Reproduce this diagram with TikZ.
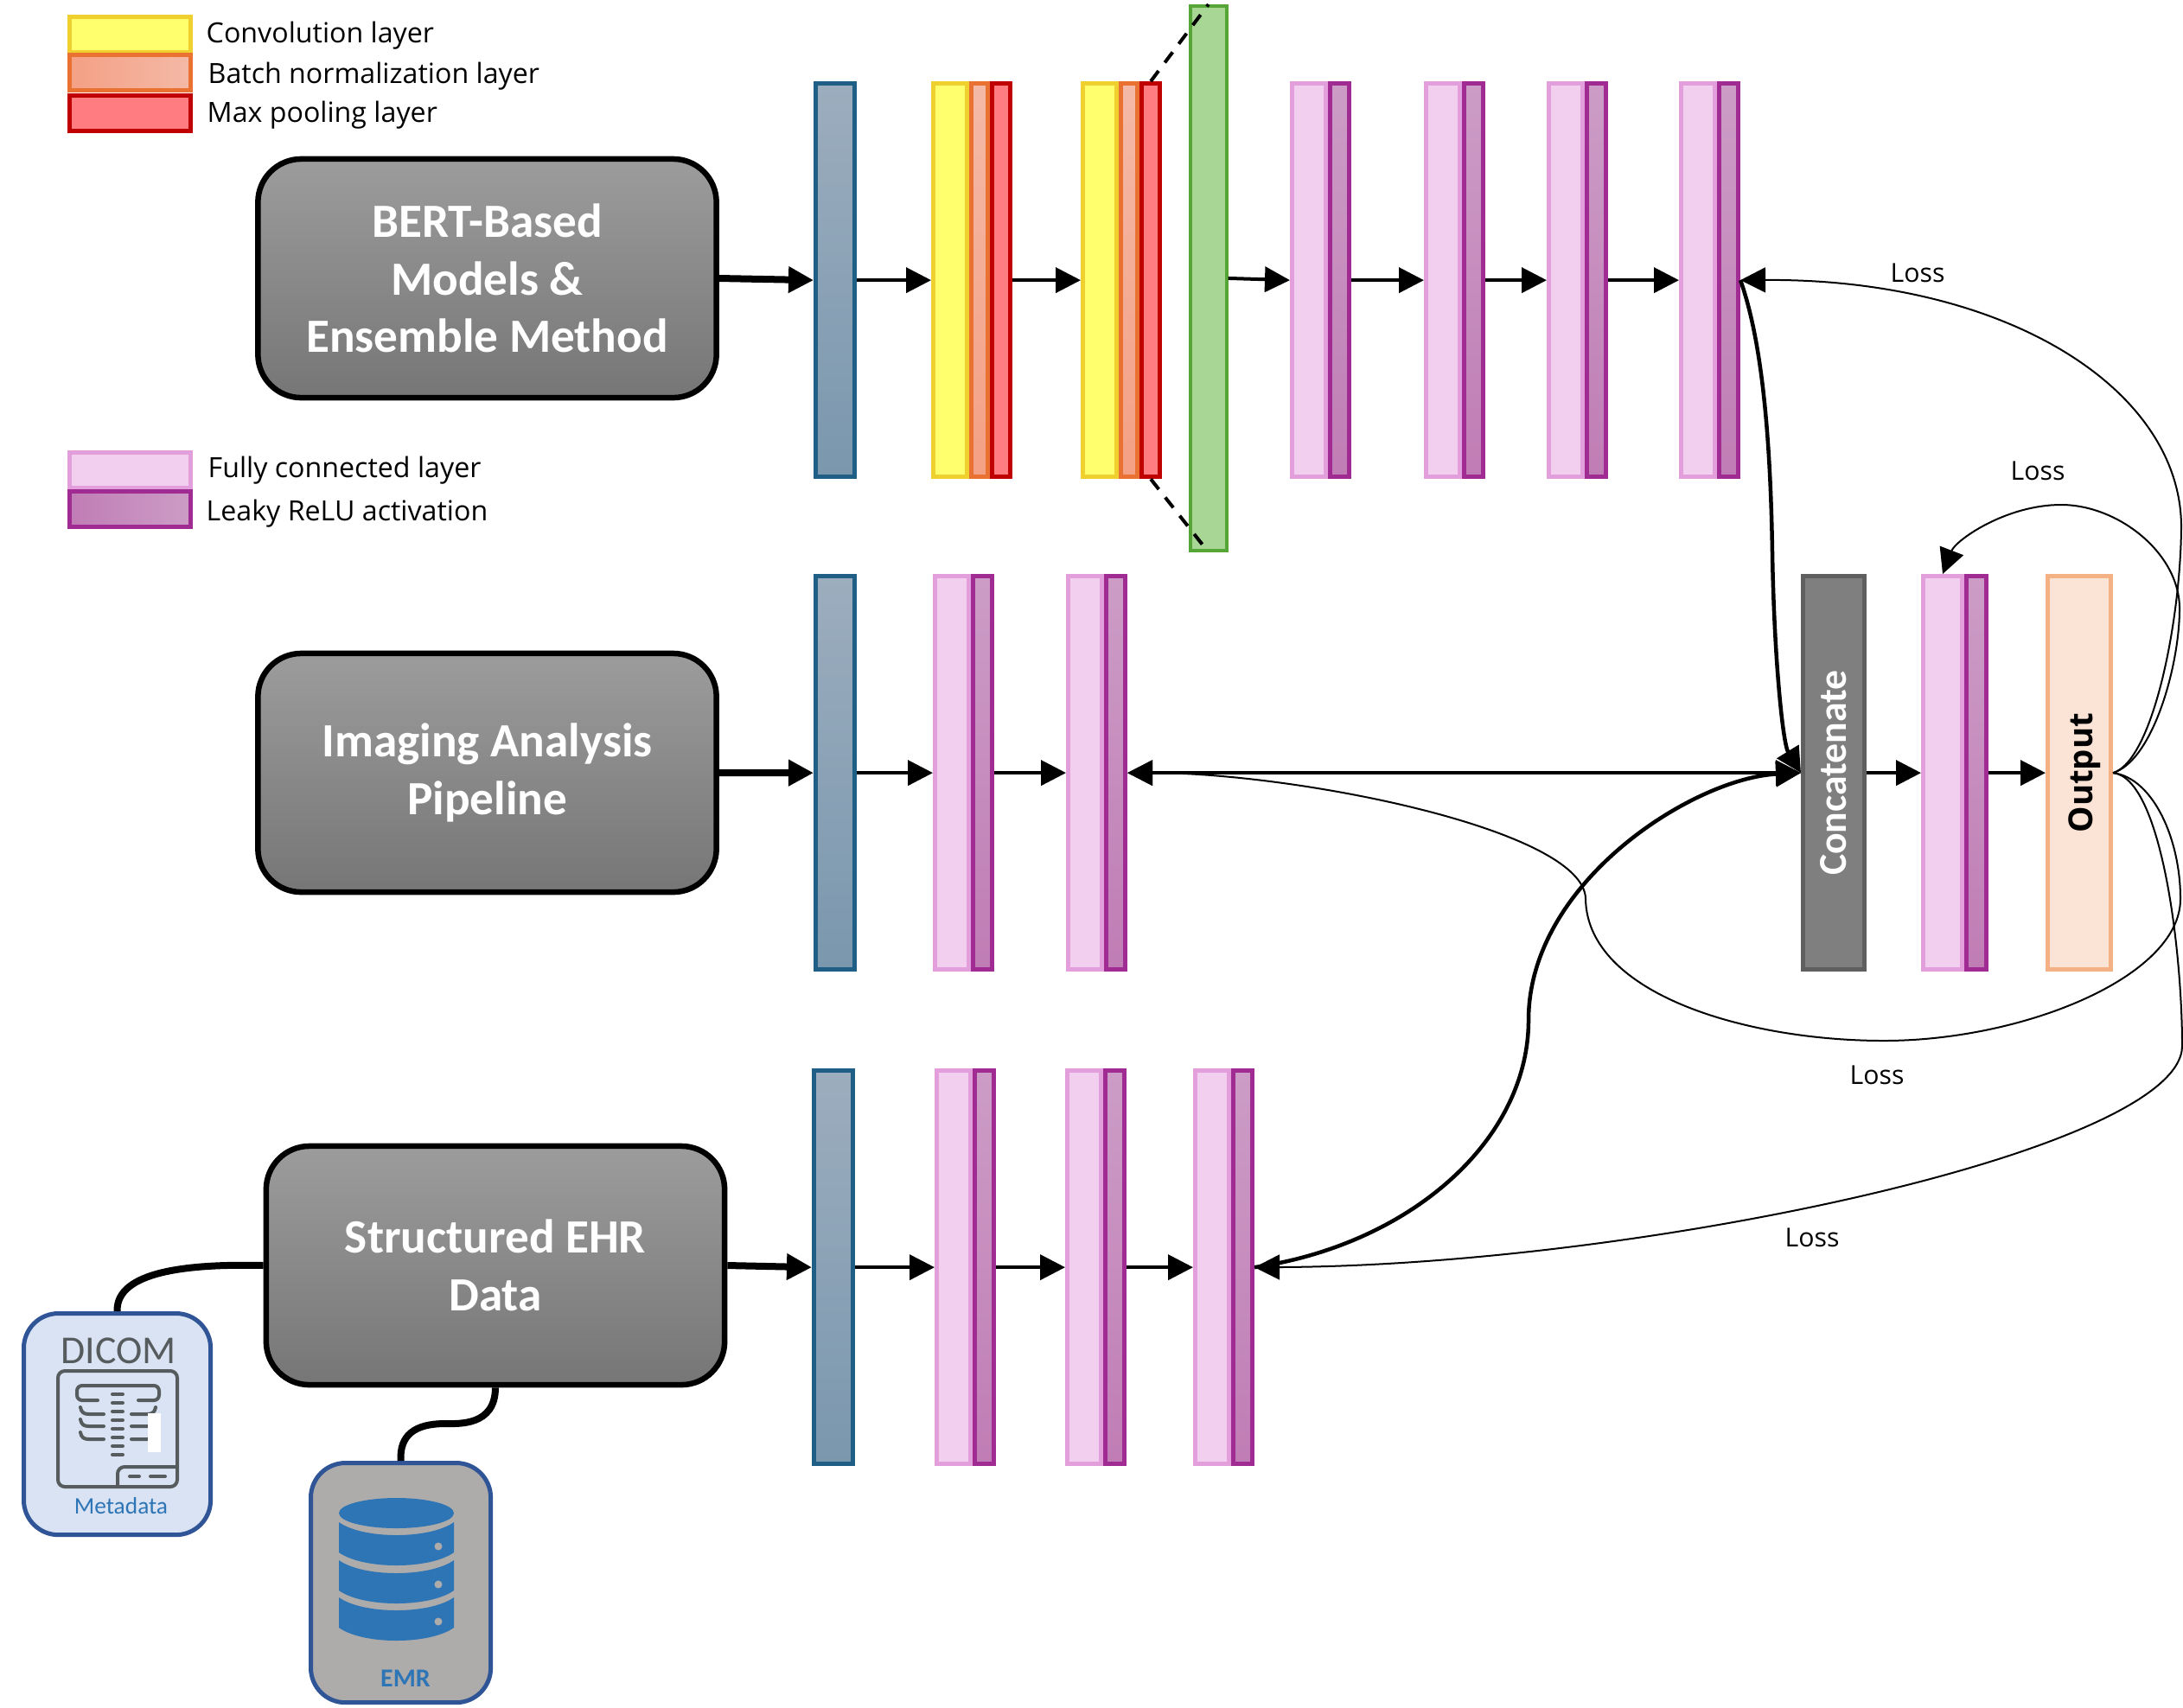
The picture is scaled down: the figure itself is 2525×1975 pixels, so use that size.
\documentclass[tikz,border=0pt]{standalone}
\usepackage{fontspec}
\usepackage{graphicx}
\usetikzlibrary{arrows.meta}
\setmainfont{Carlito}
\newfontfamily\segoe{Open Sans}
\definecolor{INK}{HTML}{000000}
\definecolor{FCL}{HTML}{F2CEEF}
\definecolor{FCD}{HTML}{E29FDC}
\definecolor{LKD}{HTML}{A02B93}
\definecolor{DBB}{HTML}{2E75B6}
\definecolor{EDGEB}{HTML}{2F5597}
\definecolor{ICON}{HTML}{565C5E}
\definecolor{IND}{HTML}{1F5F85}
\definecolor{INT}{HTML}{9CADBE}
\definecolor{INB}{HTML}{7A97AE}
\definecolor{CONVD}{HTML}{EFD02E}
\definecolor{CONVF}{HTML}{FFFF6E}
\definecolor{BND}{HTML}{E97132}
\definecolor{BNT}{HTML}{F4B9A7}
\definecolor{BNB}{HTML}{F4A084}
\definecolor{POOLD}{HTML}{C00000}
\definecolor{POOLF}{HTML}{FF7C80}
\definecolor{LKT}{HTML}{CC9CC6}
\definecolor{LKB}{HTML}{C07DB5}
\definecolor{FLATD}{HTML}{55A636}
\definecolor{FLATF}{HTML}{A8D695}
\definecolor{OUTD}{HTML}{F4B183}
\definecolor{OUTF}{HTML}{FBE3D6}
\definecolor{CATD}{HTML}{5F5F5F}
\definecolor{CATF}{HTML}{7F7F7F}
\definecolor{MAINT}{HTML}{9C9C9C}
\definecolor{MAINB}{HTML}{767676}
\definecolor{CARDF}{HTML}{DAE3F3}
\definecolor{EMRF}{HTML}{AEABAB}

\begin{document}
\begin{tikzpicture}[
    x=0.01cm, y=-0.01cm,
    font=\segoe,
    lossTip/.tip={Triangle[length=0.29cm, width=0.29cm]},
    lyr/.style={rectangle, inner sep=0pt, anchor=north west, minimum height=4.55cm, line width=0.05cm},
    inputL/.style={lyr, minimum width=0.45cm, draw=IND, top color=INT, bottom color=INB},
    convL/.style={lyr, minimum width=0.39cm, draw=CONVD, fill=CONVF},
    bnL/.style={lyr, anchor=west, minimum width=0.19cm, draw=BND, top color=BNT, bottom color=BNB},
    poolL/.style={lyr, anchor=west, minimum width=0.21cm, draw=POOLD, fill=POOLF},
    fcL/.style={lyr, minimum width=0.39cm, draw=FCD, fill=FCL},
    leakyL/.style={lyr, anchor=west, minimum width=0.22cm, draw=LKD, top color=LKT, bottom color=LKB},
    main/.style={rectangle, rounded corners=0.5cm, draw=INK, line width=0.065cm, minimum width=5.30cm, minimum height=2.76cm, top color=MAINT, bottom color=MAINB, text=white, align=center, font=\rmfamily\fontsize{15.7}{19}\selectfont\bfseries},
    keyB/.style={rectangle, inner sep=0pt, anchor=north west, line width=0.05cm, minimum width=1.40cm, minimum height=0.41cm},
    keyT/.style={anchor=west, inner sep=0pt, font=\segoe\fontsize{9.15}{11}\selectfont},
    lossT/.style={inner sep=0pt, font=\segoe\fontsize{8.6}{10}\selectfont},
    card/.style={rectangle, rounded corners=0.4cm, draw=EDGEB, line width=0.05cm, anchor=north west},
    arr/.style={-lossTip, line width=0.04cm},
    arrT/.style={-lossTip, line width=0.08cm},
    curveT/.style={-lossTip, line width=0.045cm},
    loss/.style={-lossTip, line width=0.02cm},
    wire/.style={line width=0.08cm},
    iconL/.style={draw=ICON, line width=0.04cm, line cap=round},
    dashL/.style={line width=0.04cm, dash pattern=on 0.15cm off 0.12cm},
  ]

  \useasboundingbox (0,0) rectangle (2525,1975);

  % --- legend ---
  \node[keyB, draw=CONVD, fill=CONVF] (keyConv) at (78,17) {};
  \node[keyB, draw=BND, left color=BNB, right color=BNT] (keyBn) at (78,61) {};
  \node[keyB, draw=POOLD, fill=POOLF] (keyPool) at (78,108) {};
  \node[keyB, draw=FCD, fill=FCL] (keyFc) at (78,521) {};
  \node[keyB, draw=LKD, left color=LKB, right color=LKT] (keyLeaky) at (78,566) {};
  \node[keyT] (txtConv) at (238,41) {Convolution layer};
  \node[keyT] (txtBn) at (240,88) {Batch normalization layer};
  \node[keyT] (txtPool) at (239,133) {Max pooling layer};
  \node[keyT] (txtFc) at (240,544) {Fully connected layer};
  \node[keyT] (txtLeaky) at (238,594) {Leaky ReLU activation};

  % --- source boxes ---
  \node[main] (bert) at (563.5,322) {BERT-Based\\Models \&\\Ensemble Method};
  \node[main] (imaging) at (563.5,894) {Imaging Analysis\\Pipeline};
  \node[main] (ehr) at (573,1464) {Structured EHR\\Data};

  % --- row 1 ---
  \node[inputL] (r1in) at (941,94) {};
  \foreach \nm/\x in {b1/1077, b2/1250} {
    \node[convL] (\nm conv) at (\x,94) {};
    \node[bnL] (\nm bn) at (\nm conv.east) {};
    \node[poolL] (\nm pool) at (\nm bn.east) {};
  }
  \node[rectangle, inner sep=0pt, anchor=north west, draw=FLATD, fill=FLATF, line width=0.035cm, minimum width=0.42cm, minimum height=6.3cm] (flat) at (1375,5) {};
  \foreach \nm/\x/\yy in {r1a/1492/94, r1b/1647/94, r1c/1789/94, r1d/1942/94,
                          r2a/1079/664, r2b/1233/664,
                          r3a/1081/1236, r3b/1232/1236, r3c/1380/1236} {
    \node[fcL] (\nm) at (\x,\yy) {};
    \node[leakyL] (\nm x) at (\nm.east) {};
  }
  \node[fcL, minimum width=0.45cm] (cfc) at (2222,664) {};
  \node[leakyL, minimum width=0.23cm] (cfcx) at (cfc.east) {};
  \draw[dashL] (b2pool.north) -- (flat.north);
  \draw[dashL] (b2pool.south) -- (flat.south);

  % --- rows 2 and 3, inputs ---
  \node[inputL] (r2in) at (941,664) {};
  \node[inputL] (r3in) at (939,1236) {};

  % --- merge ---
  \node[lyr, minimum width=0.71cm, draw=CATD, fill=CATF, text=white] (concat) at (2083,664)
    {\rotatebox{90}{\rmfamily\fontsize{13}{16}\selectfont\bfseries Concatenate}};
  \node[lyr, minimum width=0.73cm, draw=OUTD, fill=OUTF] (output) at (2366,664)
    {\rotatebox{90}{\smash{\raisebox{-4.5pt}{\segoe\fontsize{10.9}{13}\selectfont\bfseries Output}}}};

  % --- forward arrows ---
  \draw[arrT] (bert.east) -- (r1in.west);
  \draw[arr] (r1in.east) -- (b1conv.west);
  \draw[arr] (b1pool.east) -- (b2conv.west);
  \draw[arr] (flat.east) -- (r1a.west);
  \draw[arr] (r1ax.east) -- (r1b.west);
  \draw[arr] (r1bx.east) -- (r1c.west);
  \draw[arr] (r1cx.east) -- (r1d.west);
  \draw[arrT] (imaging.east) -- (r2in.west);
  \draw[arr] (r2in.east) -- (r2a.west);
  \draw[arr] (r2ax.east) -- (r2b.west);
  \draw[arrT] (ehr.east) -- (r3in.west);
  \draw[arr] (r3in.east) -- (r3a.west);
  \draw[arr] (r3ax.east) -- (r3b.west);
  \draw[arr] (r3bx.east) -- (r3c.west);
  \draw[arr] (concat.east) -- (cfc.west);
  \draw[arr] (cfcx.east) -- (output.west);

  % --- into concatenate ---
  \draw[lossTip-lossTip, line width=0.04cm] (r2bx.east) -- (concat.west);
  \draw[curveT] (r1dx.east) .. controls (2040,400) and (2048,520) .. (2050,640)
    .. controls (2052,760) and (2062,860) .. (concat.west);
  \draw[curveT] (r3cx.east) .. controls (1630,1440) and (1768,1320) .. (1768,1180)
    .. controls (1768,1020) and (1960,900) .. (concat.west);

  % --- loss curves ---
  \draw[loss] (output.east) .. controls (2490,880) and (2522,720) .. (2523,610)
    .. controls (2523,450) and (2320,322) .. (r1dx.east);
  \draw[loss] (output.east) .. controls (2490,880) and (2521,770) .. (2521,704)
    .. controls (2521,640) and (2450,584) .. (2384,584)
    .. controls (2320,584) and (2262,625) .. (cfc.north);
  \draw[loss] (output.east) .. controls (2490,900) and (2522,970) .. (2522,1040)
    .. controls (2522,1130) and (2340,1204) .. (2179,1204)
    .. controls (2020,1204) and (1836,1150) .. (1834,1040)
    .. controls (1833,960) and (1500,894) .. (r2bx.east);
  \draw[loss] (output.east) .. controls (2500,900) and (2524,1100) .. (2524,1210)
    .. controls (2524,1330) and (1900,1464) .. (r3cx.east);
  \node[lossT] (lossA) at (2218,316) {Loss};
  \node[lossT] (lossB) at (2357,545) {Loss};
  \node[lossT] (lossC) at (2171,1244) {Loss};
  \node[lossT] (lossD) at (2096,1432) {Loss};

  % --- DICOM card ---
  \node[card, fill=CARDF, minimum width=2.16cm, minimum height=2.56cm] (dicom) at (25,1517) {};
  \draw[rounded corners=0.08cm, iconL] (67,1586) rectangle (205,1720);
  \draw[rounded corners=0.06cm, iconL] (113,1620) -- (89,1620) -- (89,1603) -- (184,1603) -- (184,1620) -- (160,1620);
  \foreach \yy in {1636,1650,1665} {
    \draw[iconL] (93,\yy-8) .. controls (94,\yy-2) and (97,\yy) .. (103,\yy) -- (120,\yy);
    \draw[iconL] (180,\yy-8) .. controls (179,\yy-2) and (176,\yy) .. (170,\yy) -- (152,\yy);
  }
  \foreach \yy in {1613,1623,...,1683} {
    \draw[iconL] (130,\yy) -- (142,\yy);
  }
  \draw[rounded corners=0.08cm, iconL] (136,1720) -- (136,1697) -- (204,1697);
  \draw[iconL] (150,1708) -- (161,1708);
  \draw[iconL] (174,1708) -- (191,1708);
  \fill[white] (171,1635) rectangle (186,1680);
  \node[inner sep=0pt, text=ICON, font=\rmfamily\fontsize{13}{15}\selectfont] (dicomT) at (137,1563) {DICOM};
  \node[inner sep=0pt, text=DBB, font=\rmfamily\fontsize{7.8}{10}\selectfont] (metaT) at (140,1742) {Metadata};

  % --- EMR card ---
  \node[card, fill=EMRF, minimum width=2.08cm, minimum height=2.77cm] (emr) at (357,1690) {};
  \foreach \tp/\bt in {1761/1796, 1805/1840, 1848/1883} {
    \fill[DBB] (392,\tp) .. controls (420,\tp+20) and (497,\tp+20) .. (525,\tp) -- (525,\bt)
      .. controls (497,\bt+20) and (420,\bt+20) .. (392,\bt) -- cycle;
  }
  \fill[DBB] (458.5,1750.5) ellipse (66.5 and 17.5);
  \foreach \yy in {1789,1833,1876} {
    \fill[EMRF] (507,\yy) circle (0.045cm);
  }
  \node[inner sep=0pt, text=DBB, font=\rmfamily\fontsize{8.5}{10}\selectfont\bfseries] (emrT) at (469,1942) {EMR};

  % --- source wires ---
  \draw[wire] (ehr.west) .. controls (220,1462) and (134,1470) .. (dicom.north);
  \draw[wire] (ehr.south) .. controls (573,1650) and (530,1647) .. (515,1647)
    .. controls (480,1647) and (462,1660) .. (emr.north);
\end{tikzpicture}
\end{document}
